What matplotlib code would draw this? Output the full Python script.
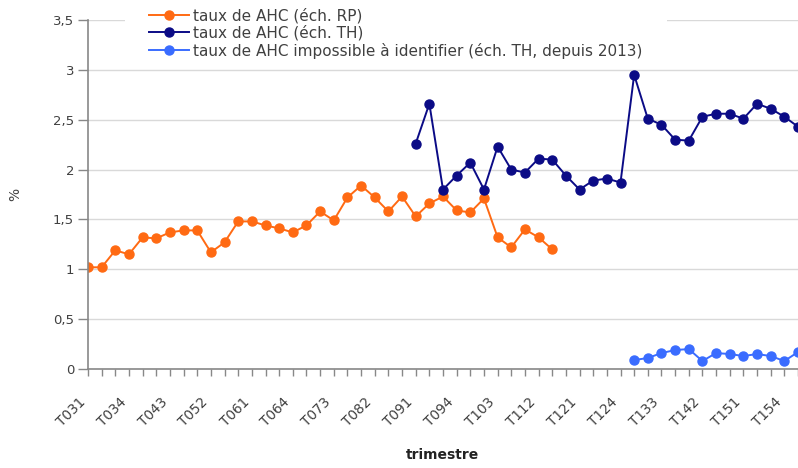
import matplotlib
matplotlib.use("Agg")
import matplotlib.pyplot as plt
import matplotlib.transforms as mtransforms
from matplotlib.patches import Rectangle
import numpy as np

# quarters T031 .. T161 (year 2003 q1 onwards)
quarters = ["T%02d%d" % (y, q) for y in range(3, 17) for q in range(1, 5)][:53]

# taux de AHC, echantillon RP (T031 - T113)
rp_rate = [1.02, 1.02, 1.19, 1.15, 1.32, 1.31, 1.37, 1.39, 1.39, 1.17,
           1.27, 1.48, 1.48, 1.44, 1.41, 1.37, 1.44, 1.58, 1.49, 1.72,
           1.84, 1.72, 1.58, 1.73, 1.53, 1.66, 1.73, 1.59, 1.57, 1.71,
           1.32, 1.22, 1.40, 1.32, 1.20]

# taux de AHC, echantillon TH (from T091)
th_start = 24
th_rate = [2.26, 2.66, 1.80, 1.94, 2.07, 1.80, 2.23, 2.00, 1.97, 2.11,
           2.10, 1.94, 1.80, 1.89, 1.91, 1.87, 2.95, 2.51, 2.45, 2.30,
           2.29, 2.53, 2.56, 2.56, 2.51, 2.66, 2.61, 2.53, 2.43]

# taux de AHC impossible a identifier (from T131)
imp_start = 40
imp_rate = [0.09, 0.11, 0.16, 0.19, 0.20, 0.08, 0.16, 0.15, 0.13, 0.15,
            0.13, 0.08, 0.17]

c_rp = "#ff6a13"
c_th = "#0b0b86"
c_imp = "#3a6cff"
grey = "#404040"

plt.rcParams["font.family"] = ["DejaVu Sans"]

fig = plt.figure(figsize=(7.98, 4.68), dpi=100)
ax = fig.add_axes([88 / 798, (468 - 369) / 468, 1 - 88 / 798, (369 - 20) / 468])

kw = dict(marker="o", markersize=6.5, linewidth=1.4)
ax.plot(np.arange(len(rp_rate)), rp_rate, color=c_rp,
        label="taux de AHC (éch. RP)", **kw)
ax.plot(np.arange(th_start, th_start + len(th_rate)), th_rate, color=c_th,
        label="taux de AHC (éch. TH)", **kw)
ax.plot(np.arange(imp_start, imp_start + len(imp_rate)), imp_rate, color=c_imp,
        label="taux de AHC impossible à identifier (éch. TH, depuis 2013)", **kw)

ax.set_xlim(0, 51.8)
ax.set_ylim(0, 3.5)

ax.set_yticks(np.arange(0, 3.51, 0.5))
ax.set_yticklabels([("%g" % v).replace(".", ",") for v in np.arange(0, 3.51, 0.5)])
ax.set_xticks(np.arange(len(quarters)))
ax.set_xticklabels([q if i % 3 == 0 else "" for i, q in enumerate(quarters)],
                   rotation=45, ha="right")
offset = mtransforms.ScaledTranslation(-8 / 100, 0, fig.dpi_scale_trans)
for lab in ax.get_xticklabels():
    lab.set_transform(lab.get_transform() + offset)

ax.tick_params(axis="x", length=5, width=1, color="#888888", pad=14,
               labelsize=9.8, labelcolor=grey)
ax.tick_params(axis="y", length=7, width=1, color="#888888", pad=3,
               labelsize=9.5, labelcolor=grey)

ax.grid(axis="y", color="#d9d9d9", linewidth=1)
ax.set_axisbelow(True)
for s in ["top", "right"]:
    ax.spines[s].set_visible(False)
for s in ["left", "bottom"]:
    ax.spines[s].set_color("#888888")
    ax.spines[s].set_linewidth(1.2)

ax.set_xlabel("trimestre", fontsize=10, fontweight="bold", color="#222222",
              labelpad=13)
ax.set_ylabel("%", fontsize=10, color=grey, labelpad=22)

# white box behind the legend hides part of the top gridline
ax.add_patch(Rectangle((125 / 798, 1 - 63 / 468), (667 - 125) / 798, 63 / 468,
                       transform=fig.transFigure, facecolor="white",
                       edgecolor="none", clip_on=False, zorder=1))

leg = ax.legend(loc="upper left", bbox_to_anchor=(149 / 798, 1 - 8 / 468),
                bbox_transform=fig.transFigure, frameon=False,
                fontsize=11, handlelength=2.6, handletextpad=0.25,
                labelspacing=0.12, borderpad=0, borderaxespad=0)
for t in leg.get_texts():
    t.set_color(grey)

fig.savefig("out.png", dpi=100)
